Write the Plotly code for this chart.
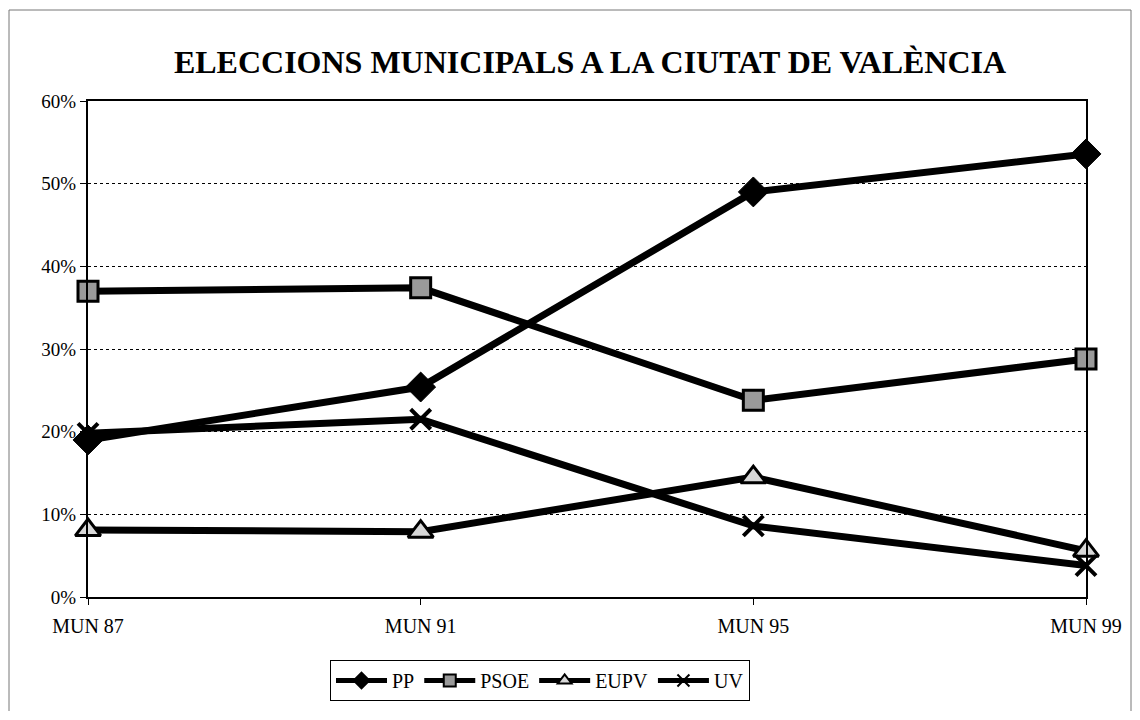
import plotly.graph_objects as go

categories = ["MUN 87", "MUN 91", "MUN 95", "MUN 99"]
pp = [19.0, 25.4, 49.0, 53.6]
psoe = [37.0, 37.4, 23.8, 28.8]
eupv = [8.1, 7.9, 14.5, 5.6]
uv = [19.8, 21.5, 8.6, 3.8]
title_text = "ELECCIONS MUNICIPALS A LA CIUTAT DE VALÈNCIA"
ytick_vals = [0, 10, 20, 30, 40, 50, 60]
ytick_text = ["0%", "10%", "20%", "30%", "40%", "50%", "60%"]

FONT = "Liberation Serif"
OFF = 8  # page body margin
W, H = 1140 - 2 * OFF, 720 - 2 * OFF
# plot area in page pixels
PX0, PX1, PY0, PY1 = 88, 1086, 101, 597
L = PX0 - OFF
R = W - (PX1 - OFF)
T = PY0 - OFF
B = H - (PY1 - OFF)

series = [
    ("PP", pp, dict(symbol="diamond", size=23, color="black", line=dict(color="black", width=1))),
    ("PSOE", psoe, dict(symbol="square", size=20, color="#9a9a9a", line=dict(color="black", width=3))),
    ("EUPV", eupv, dict(symbol="triangle-up", size=22, color="#d8d8d8", line=dict(color="black", width=3))),
    ("UV", uv, dict(symbol="x-thin", size=20, color="black", line=dict(color="black", width=4))),
]

fig = go.Figure()
for name, vals, mk in series:
    fig.add_trace(go.Scatter(
        x=list(range(len(categories))), y=vals, name=name, mode="lines+markers",
        line=dict(color="black", width=7), marker=mk, cliponaxis=False,
    ))

pw = PX1 - PX0
ph = PY1 - PY0
def px_x(p):
    return (p - PX0) / pw
def px_y(p):
    return (PY1 - p) / ph

# outer chart frame (left, top, right edges)
frame = dict(color="#777777", width=1)
fig.add_shape(type="line", xref="paper", yref="paper", x0=px_x(9), x1=px_x(9),
              y0=px_y(711), y1=px_y(10), line=frame, layer="below")
fig.add_shape(type="line", xref="paper", yref="paper", x0=px_x(9), x1=px_x(1131),
              y0=px_y(10), y1=px_y(10), line=frame, layer="below")
fig.add_shape(type="line", xref="paper", yref="paper", x0=px_x(1131), x1=px_x(1131),
              y0=px_y(711), y1=px_y(10), line=frame, layer="below")

fig.update_layout(
    width=W, height=H,
    margin=dict(l=L, r=R, t=T, b=B, autoexpand=False),
    paper_bgcolor="white", plot_bgcolor="white",
    font=dict(family=FONT, color="black", size=18),
    title=dict(text="<b>" + title_text + "</b>", x=(590 - OFF) / W, xanchor="center",
               y=1 - (62 - OFF) / H, yanchor="middle", font=dict(family=FONT, size=32, color="black")),
    xaxis=dict(
        tickmode="array", tickvals=list(range(len(categories))), ticktext=categories,
        range=[0, 3], showgrid=False, zeroline=False,
        showline=True, linecolor="black", linewidth=2, mirror=True,
        ticks="outside", ticklen=6, tickcolor="black", tickwidth=1,
        tickfont=dict(family=FONT, size=20), fixedrange=True, ticklabelstandoff=4,
    ),
    yaxis=dict(
        tickmode="array", tickvals=ytick_vals, ticktext=ytick_text,
        range=[0, 60], showgrid=True, gridcolor="black", gridwidth=1, griddash="3px,3px",
        zeroline=False, showline=True, linecolor="black", linewidth=2, mirror=True,
        ticks="outside", ticklen=6, tickcolor="black", tickwidth=1,
        tickfont=dict(family=FONT, size=19), fixedrange=True,
    ),
    showlegend=True,
    legend=dict(
        orientation="h", x=px_x(330), xanchor="left", y=px_y(660), yanchor="top",
        bordercolor="black", borderwidth=1, bgcolor="white",
        font=dict(family=FONT, size=20, color="black"), itemwidth=51,
        tracegroupgap=0, itemsizing="constant",
    ),
)

fig.write_html("out.html")
